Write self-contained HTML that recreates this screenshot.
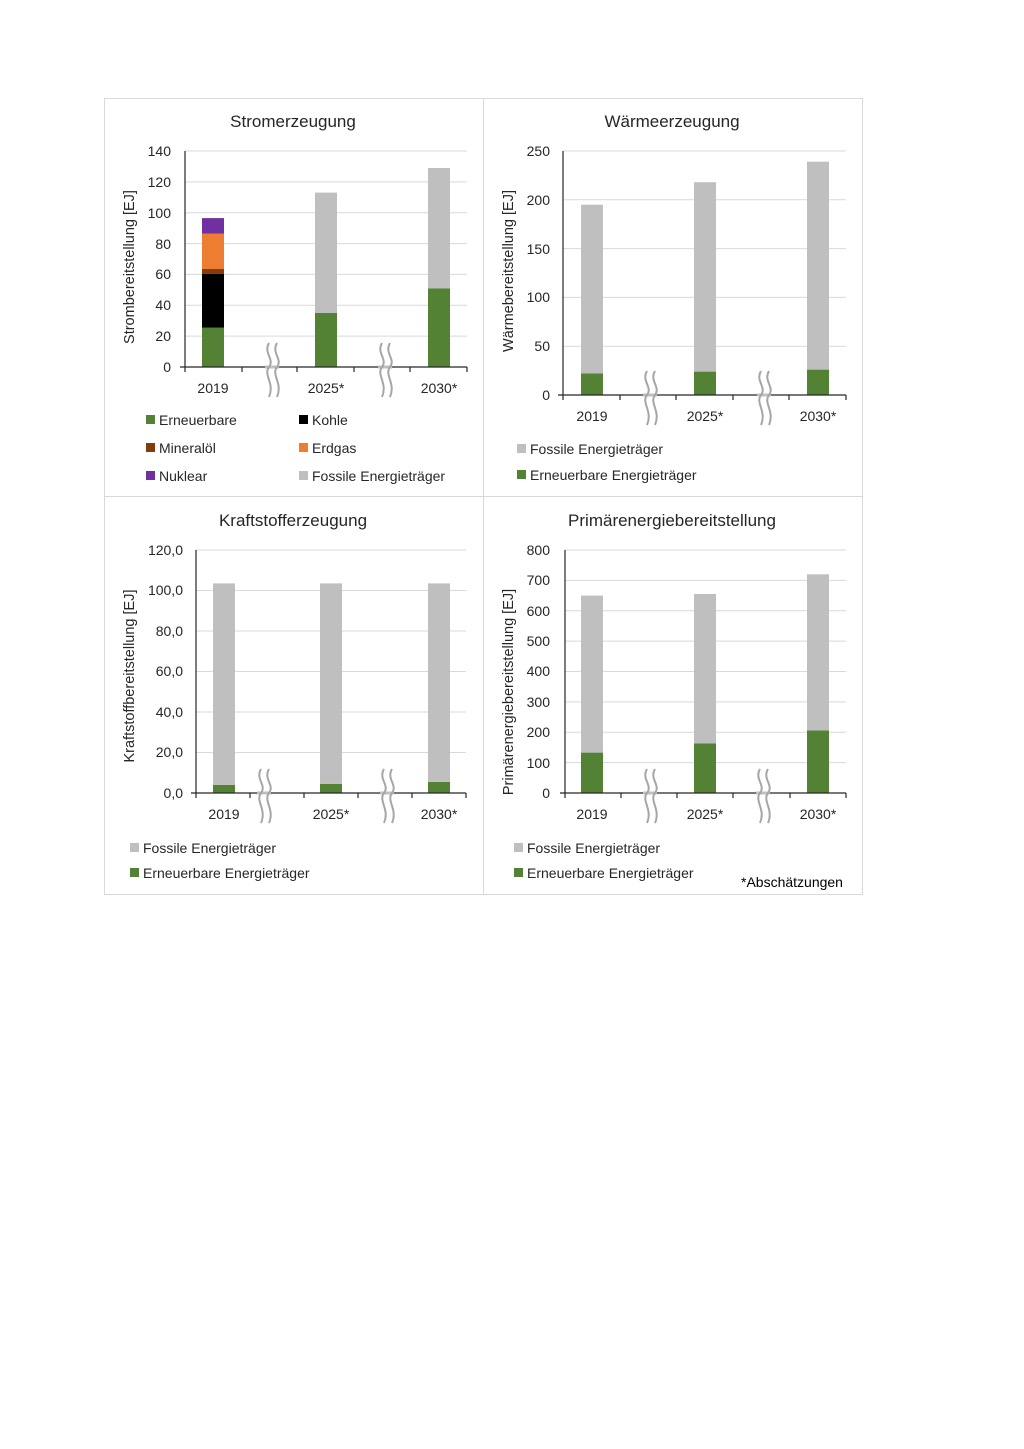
<!DOCTYPE html>
<html><head><meta charset="utf-8"><style>
html,body{margin:0;padding:0;background:#fff}
svg{display:block}
text{font-family:"Liberation Sans",sans-serif;fill:#262626}
.t{font-size:17px;text-anchor:middle}
.k{font-size:14px;text-anchor:end}
.c{font-size:14px;text-anchor:middle}
.y{font-size:14.5px;text-anchor:middle}
.l{font-size:14px}
.g{stroke:#d9d9d9;stroke-width:1}
.ax{stroke:#262626;stroke-width:1.2}
.br{stroke:#a6a6a6;stroke-width:2;fill:none}
</style></head><body>
<svg width="1024" height="1449" viewBox="0 0 1024 1449">
<defs>
<g id="brk">
<line x1="-7" y1="0" x2="7" y2="0" stroke="#bfbfbf" stroke-width="3"/>
<path class="br" d="M-3,-24 C-9,-14 3,-8 -3,0 C-9,8 3,16 -3,30"/>
<path class="br" d="M5,-24 C-1,-14 11,-8 5,0 C-1,8 11,16 5,30"/>
</g>
</defs>
<rect x="104.5" y="98.5" width="758" height="796" fill="none" stroke="#d9d9d9"/>
<line x1="483.5" y1="98" x2="483.5" y2="895" stroke="#d9d9d9"/>
<line x1="104" y1="496.5" x2="863" y2="496.5" stroke="#d9d9d9"/>

<!-- Panel 1 -->
<text class="t" x="293" y="127">Stromerzeugung</text>
<g class="g"><line x1="185" y1="151" x2="467" y2="151"/><line x1="185" y1="181.9" x2="467" y2="181.9"/><line x1="185" y1="212.7" x2="467" y2="212.7"/><line x1="185" y1="243.6" x2="467" y2="243.6"/><line x1="185" y1="274.4" x2="467" y2="274.4"/><line x1="185" y1="305.3" x2="467" y2="305.3"/><line x1="185" y1="336.1" x2="467" y2="336.1"/></g>
<g class="k"><text x="171" y="156">140</text><text x="171" y="187">120</text><text x="171" y="218">100</text><text x="171" y="249">80</text><text x="171" y="279">60</text><text x="171" y="310">40</text><text x="171" y="341">20</text><text x="171" y="372">0</text></g>
<rect x="202" y="327.7" width="22" height="39.3" fill="#548235"/>
<rect x="202" y="273.7" width="22" height="54" fill="#000"/>
<rect x="202" y="269" width="22" height="4.7" fill="#843c0c"/>
<rect x="202" y="233.5" width="22" height="35.5" fill="#ed7d31"/>
<rect x="202" y="218.1" width="22" height="15.4" fill="#7030a0"/>
<rect x="315" y="313" width="22" height="54" fill="#548235"/>
<rect x="315" y="192.6" width="22" height="120.4" fill="#bfbfbf"/>
<rect x="428" y="288.3" width="22" height="78.7" fill="#548235"/>
<rect x="428" y="168" width="22" height="120.3" fill="#bfbfbf"/>
<line class="ax" x1="185" y1="151" x2="185" y2="372"/>
<line class="ax" x1="180" y1="367" x2="467" y2="367"/>
<g class="ax"><line x1="242" y1="367" x2="242" y2="372"/><line x1="297" y1="367" x2="297" y2="372"/><line x1="354" y1="367" x2="354" y2="372"/><line x1="410" y1="367" x2="410" y2="372"/><line x1="467" y1="367" x2="467" y2="372"/></g>
<use href="#brk" x="272" y="367"/><use href="#brk" x="385" y="367"/>
<g class="c"><text x="213" y="393">2019</text><text x="326" y="393">2025*</text><text x="439" y="393">2030*</text></g>
<text class="y" transform="translate(134,267) rotate(-90)">Strombereitstellung [EJ]</text>
<rect x="146" y="415" width="9" height="9" fill="#548235"/><text class="l" x="159" y="425">Erneuerbare</text>
<rect x="299" y="415" width="9" height="9" fill="#000"/><text class="l" x="312" y="425">Kohle</text>
<rect x="146" y="443" width="9" height="9" fill="#843c0c"/><text class="l" x="159" y="453">Mineralöl</text>
<rect x="299" y="443" width="9" height="9" fill="#ed7d31"/><text class="l" x="312" y="453">Erdgas</text>
<rect x="146" y="471" width="9" height="9" fill="#7030a0"/><text class="l" x="159" y="481">Nuklear</text>
<rect x="299" y="471" width="9" height="9" fill="#bfbfbf"/><text class="l" x="312" y="481">Fossile Energieträger</text>

<!-- Panel 2 -->
<text class="t" x="672" y="127">Wärmeerzeugung</text>
<g class="g"><line x1="563" y1="151" x2="846" y2="151"/><line x1="563" y1="199.8" x2="846" y2="199.8"/><line x1="563" y1="248.6" x2="846" y2="248.6"/><line x1="563" y1="297.4" x2="846" y2="297.4"/><line x1="563" y1="346.2" x2="846" y2="346.2"/></g>
<g class="k"><text x="550" y="156">250</text><text x="550" y="205">200</text><text x="550" y="254">150</text><text x="550" y="302">100</text><text x="550" y="351">50</text><text x="550" y="400">0</text></g>
<rect x="581" y="373.5" width="22" height="21.5" fill="#548235"/>
<rect x="581" y="204.7" width="22" height="168.8" fill="#bfbfbf"/>
<rect x="694" y="371.6" width="22" height="23.4" fill="#548235"/>
<rect x="694" y="182.2" width="22" height="189.4" fill="#bfbfbf"/>
<rect x="807" y="369.6" width="22" height="25.4" fill="#548235"/>
<rect x="807" y="161.7" width="22" height="207.9" fill="#bfbfbf"/>
<line class="ax" x1="563" y1="151" x2="563" y2="400"/>
<line class="ax" x1="558" y1="395" x2="846" y2="395"/>
<g class="ax"><line x1="620" y1="395" x2="620" y2="400"/><line x1="676" y1="395" x2="676" y2="400"/><line x1="733" y1="395" x2="733" y2="400"/><line x1="789" y1="395" x2="789" y2="400"/><line x1="846" y1="395" x2="846" y2="400"/></g>
<use href="#brk" x="650" y="395"/><use href="#brk" x="764" y="395"/>
<g class="c"><text x="592" y="421">2019</text><text x="705" y="421">2025*</text><text x="818" y="421">2030*</text></g>
<text class="y" transform="translate(513,271) rotate(-90)">Wärmebereitstellung [EJ]</text>
<rect x="517" y="444" width="9" height="9" fill="#bfbfbf"/><text class="l" x="530" y="454">Fossile Energieträger</text>
<rect x="517" y="470" width="9" height="9" fill="#548235"/><text class="l" x="530" y="480">Erneuerbare Energieträger</text>

<!-- Panel 3 -->
<text class="t" x="293" y="526">Kraftstofferzeugung</text>
<g class="g"><line x1="196" y1="550" x2="466" y2="550"/><line x1="196" y1="590.5" x2="466" y2="590.5"/><line x1="196" y1="631" x2="466" y2="631"/><line x1="196" y1="671.5" x2="466" y2="671.5"/><line x1="196" y1="712" x2="466" y2="712"/><line x1="196" y1="752.5" x2="466" y2="752.5"/></g>
<g class="k"><text x="183" y="555">120,0</text><text x="183" y="595">100,0</text><text x="183" y="636">80,0</text><text x="183" y="676">60,0</text><text x="183" y="717">40,0</text><text x="183" y="757">20,0</text><text x="183" y="798">0,0</text></g>
<rect x="213" y="784.9" width="22" height="8.1" fill="#548235"/>
<rect x="213" y="583.4" width="22" height="201.5" fill="#bfbfbf"/>
<rect x="320" y="783.9" width="22" height="9.1" fill="#548235"/>
<rect x="320" y="583.4" width="22" height="200.5" fill="#bfbfbf"/>
<rect x="428" y="781.9" width="22" height="11.1" fill="#548235"/>
<rect x="428" y="583.4" width="22" height="198.5" fill="#bfbfbf"/>
<line class="ax" x1="196" y1="550" x2="196" y2="798"/>
<line class="ax" x1="191" y1="793" x2="466" y2="793"/>
<g class="ax"><line x1="250" y1="793" x2="250" y2="798"/><line x1="304" y1="793" x2="304" y2="798"/><line x1="358" y1="793" x2="358" y2="798"/><line x1="412" y1="793" x2="412" y2="798"/><line x1="466" y1="793" x2="466" y2="798"/></g>
<use href="#brk" x="264" y="793"/><use href="#brk" x="387" y="793"/>
<g class="c"><text x="224" y="819">2019</text><text x="331" y="819">2025*</text><text x="439" y="819">2030*</text></g>
<text class="y" transform="translate(134,676) rotate(-90)">Kraftstoffbereitstellung [EJ]</text>
<rect x="130" y="843" width="9" height="9" fill="#bfbfbf"/><text class="l" x="143" y="853">Fossile Energieträger</text>
<rect x="130" y="868" width="9" height="9" fill="#548235"/><text class="l" x="143" y="878">Erneuerbare Energieträger</text>

<!-- Panel 4 -->
<text class="t" x="672" y="526">Primärenergiebereitstellung</text>
<g class="g"><line x1="565" y1="550" x2="846" y2="550"/><line x1="565" y1="580.4" x2="846" y2="580.4"/><line x1="565" y1="610.8" x2="846" y2="610.8"/><line x1="565" y1="641.1" x2="846" y2="641.1"/><line x1="565" y1="671.5" x2="846" y2="671.5"/><line x1="565" y1="701.9" x2="846" y2="701.9"/><line x1="565" y1="732.3" x2="846" y2="732.3"/><line x1="565" y1="762.6" x2="846" y2="762.6"/></g>
<g class="k"><text x="550" y="555">800</text><text x="550" y="585">700</text><text x="550" y="616">600</text><text x="550" y="646">500</text><text x="550" y="676">400</text><text x="550" y="707">300</text><text x="550" y="737">200</text><text x="550" y="768">100</text><text x="550" y="798">0</text></g>
<rect x="581" y="752.6" width="22" height="40.4" fill="#548235"/>
<rect x="581" y="595.6" width="22" height="157" fill="#bfbfbf"/>
<rect x="694" y="743.5" width="22" height="49.5" fill="#548235"/>
<rect x="694" y="594" width="22" height="149.5" fill="#bfbfbf"/>
<rect x="807" y="730.4" width="22" height="62.6" fill="#548235"/>
<rect x="807" y="574.3" width="22" height="156.1" fill="#bfbfbf"/>
<line class="ax" x1="565" y1="550" x2="565" y2="798"/>
<line class="ax" x1="560" y1="793" x2="846" y2="793"/>
<g class="ax"><line x1="621" y1="793" x2="621" y2="798"/><line x1="677" y1="793" x2="677" y2="798"/><line x1="733" y1="793" x2="733" y2="798"/><line x1="790" y1="793" x2="790" y2="798"/><line x1="846" y1="793" x2="846" y2="798"/></g>
<use href="#brk" x="650" y="793"/><use href="#brk" x="763" y="793"/>
<g class="c"><text x="592" y="819">2019</text><text x="705" y="819">2025*</text><text x="818" y="819">2030*</text></g>
<text class="y" transform="translate(513,692) rotate(-90)">Primärenergiebereitstellung  [EJ]</text>
<rect x="514" y="843" width="9" height="9" fill="#bfbfbf"/><text class="l" x="527" y="853">Fossile Energieträger</text>
<rect x="514" y="868" width="9" height="9" fill="#548235"/><text class="l" x="527" y="878">Erneuerbare Energieträger</text>
<text x="741" y="887" style="font-size:14px;fill:#000">*Abschätzungen</text>
</svg>
</body></html>
